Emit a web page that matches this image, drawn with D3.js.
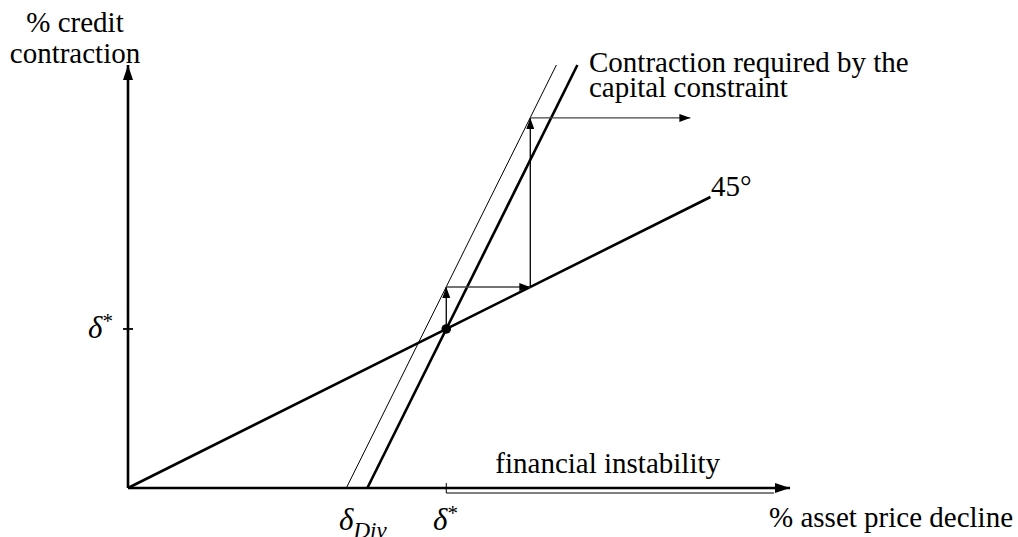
<!DOCTYPE html>
<html>
<head>
<meta charset="utf-8">
<script src="https://cdn.jsdelivr.net/npm/d3@7"></script>
<style>
    body { margin: 0; background: #fff; }
</style>
</head>
<body>
<svg id="chart" width="1018" height="537"></svg>
<script>
// values (x: % asset price decline, y: % credit contraction)
var deltaStar = 10;
var fortyFive = [[0, 0], [18.3, 18.3]];
var capitalLine = [[7.52, 0], [14.12, 26.6]];
var divLine = [[6.86, 0], [13.46, 26.6]];
var steps = [
    [[10, 10], [10, 12.64]],
    [[10, 12.64], [12.64, 12.64]],
    [[12.64, 12.64], [12.64, 23.27]],
    [[12.64, 23.27], [17.67, 23.27]]
];
var instabilityEnd = 20.3;

var serif = '"Liberation Serif", "Times New Roman", "DejaVu Serif", serif';

var x = d3.scaleLinear().domain([0, 20.8]).range([128, 790]),
    y = d3.scaleLinear().domain([0, 26.6]).range([488, 65]);

var svg = d3.select('#chart');
var line = d3.line().x(function(d) { return x(d[0]); }).y(function(d) { return y(d[1]); });

var defs = svg.append('defs');
function marker(id, len, wid) {
    defs.append('marker')
        .attr('id', id)
        .attr('markerUnits', 'userSpaceOnUse')
        .attr('viewBox', '0 0 ' + len + ' ' + wid)
        .attr('refX', len).attr('refY', wid / 2)
        .attr('markerWidth', len).attr('markerHeight', wid)
        .attr('orient', 'auto')
        .append('path')
        .attr('d', 'M0,0L' + len + ',' + wid / 2 + 'L0,' + wid + 'Z')
        .attr('fill', '#000');
}
marker('big', 15, 10);
marker('small', 11, 8);

// axes
svg.append('path')
    .attr('d', line([[0, 0], [0, 26.6]]))
    .attr('stroke', '#000').attr('stroke-width', 2.6).attr('fill', 'none')
    .attr('marker-end', 'url(#big)');
svg.append('path')
    .attr('d', line([[0, 0], [20.8, 0]]))
    .attr('stroke', '#000').attr('stroke-width', 2.6).attr('fill', 'none')
    .attr('marker-end', 'url(#big)');

// delta* tick on the y axis
svg.append('line')
    .attr('x1', x(0) - 5).attr('x2', x(0) + 5)
    .attr('y1', y(deltaStar)).attr('y2', y(deltaStar))
    .attr('stroke', '#000').attr('stroke-width', 1.8);

// financial instability bracket
svg.append('path')
    .attr('d', 'M' + x(deltaStar) + ',' + (y(0) - 5) + 'V' + (y(0) + 5) + 'H' + x(instabilityEnd))
    .attr('stroke', '#000').attr('stroke-width', 1).attr('fill', 'none');

// lines
svg.append('path').attr('d', line(fortyFive))
    .attr('stroke', '#000').attr('stroke-width', 2.6).attr('fill', 'none');
svg.append('path').attr('d', line(capitalLine))
    .attr('stroke', '#000').attr('stroke-width', 2.6).attr('fill', 'none');
svg.append('path').attr('d', line(divLine))
    .attr('stroke', '#000').attr('stroke-width', 1).attr('fill', 'none');

// cobweb steps
svg.selectAll('.step').data(steps).enter().append('path')
    .attr('class', 'step')
    .attr('d', line)
    .attr('stroke', function(d, i) { return i % 2 ? '#444' : '#000'; })
    .attr('stroke-width', 1.3).attr('fill', 'none')
    .attr('marker-end', 'url(#small)');

svg.append('circle')
    .attr('cx', x(deltaStar)).attr('cy', y(deltaStar)).attr('r', 4.8)
    .attr('fill', '#000');

// labels
function label(t, px, py, anchor) {
    return svg.append('text').attr('x', px).attr('y', py)
        .attr('text-anchor', anchor || 'start')
        .style('font-family', serif)
        .style('font-size', '29px').text(t);
}
label('% credit', 75, 32, 'middle');
label('contraction', 75, 63, 'middle');
label('Contraction required by the', 589, 72);
label('capital constraint', 589, 97);
label('45°', 711, 196);
label('financial instability', 720, 473, 'end');
label('% asset price decline', 1013, 527, 'end');

function delta(px, py, sup, sub) {
    var t = svg.append('text').attr('x', px).attr('y', py)
        .style('font-family', serif).style('font-size', '31px');
    t.append('tspan').style('font-style', 'italic').text('δ');
    if (sup) t.append('tspan').attr('dy', -10).style('font-size', '21px').text(sup);
    if (sub) t.append('tspan').attr('dy', 8).style('font-size', '23px').style('font-style', 'italic').text(sub);
}
delta(88, 338, '*');
delta(339, 530, null, 'Div');
delta(433, 530, '*');
</script>
</body>
</html>
